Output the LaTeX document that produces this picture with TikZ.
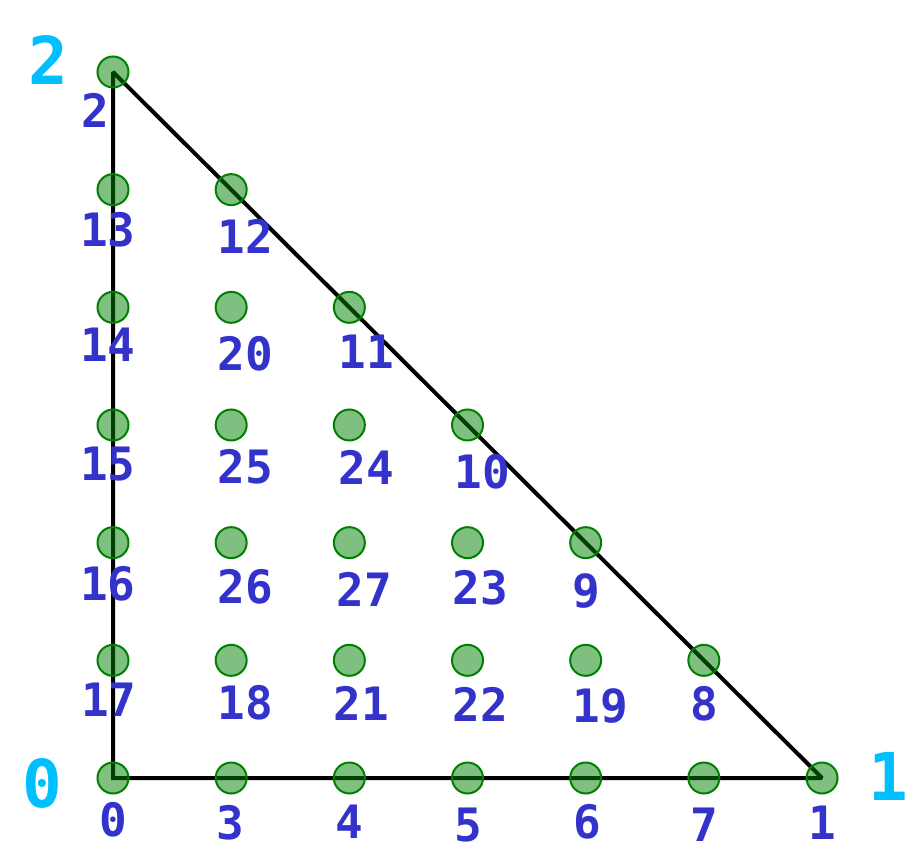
\documentclass[tikz,border=0pt]{standalone}
\usepackage{fontspec}
\usepackage{tikz}
\usetikzlibrary{backgrounds}
\newfontfamily\dofmono{DejaVu Sans Mono}
\definecolor{dofBlue}{RGB}{51,51,204}
\definecolor{vertCyan}{RGB}{0,191,255}
\definecolor{dofGreen}{RGB}{0,128,0}

\begin{document}
\begin{tikzpicture}[x=1pt,y=-1pt,
    dof/.style={circle, draw=dofGreen, line width=2pt, fill=dofGreen,
      fill opacity=0.5, draw opacity=1, minimum size=31pt, inner sep=0pt},
    doflabel/.style={text=dofBlue, inner sep=0pt,
      font=\dofmono\bfseries\fontsize{46}{46}\selectfont},
    vertlabel/.style={text=vertCyan, inner sep=0pt,
      font=\dofmono\bfseries\fontsize{66}{66}\selectfont}
  ]
  \useasboundingbox (0,0) rectangle (924,864);

  % degrees of freedom: number / column / row / label position
  \foreach \n/\i/\j/\lx/\ly in {
      0/0/0/113/820, 3/1/0/230/823, 4/2/0/349/822, 5/3/0/468/825,
      6/4/0/587/822, 7/5/0/704/825, 1/6/0/822/823,
      17/0/1/109/700, 18/1/1/245/703, 21/2/1/361/703, 22/3/1/480/704,
      19/4/1/600/706, 8/5/1/704/704,
      16/0/2/108/584, 26/1/2/245/587, 27/2/2/364/589, 23/3/2/480/588,
      9/4/2/586/591,
      15/0/3/108/464, 25/1/3/245/467, 24/2/3/366/467, 10/3/3/482/472,
      14/0/4/108/345, 20/1/4/245/354, 11/2/4/366/352,
      13/0/5/108/230, 12/1/5/245/236,
      2/0/6/95/110}{
    \node[dof] (p\n) at ({113+118.17*\i},{778-117.67*\j}) {};
    \node[doflabel] (l\n) at (\lx,\ly) {\n};
  }

  % reference element
  \begin{scope}[on background layer]
    \draw[line width=4pt, line join=miter, miter limit=2]
      (p0.center) -- (p1.center) -- (p2.center) -- cycle;
  \end{scope}

  \node[vertlabel] (v0) at (42,783) {0};
  \node[vertlabel] (v1) at (888,776) {1};
  \node[vertlabel] (v2) at (48,60) {2};
\end{tikzpicture}
\end{document}
